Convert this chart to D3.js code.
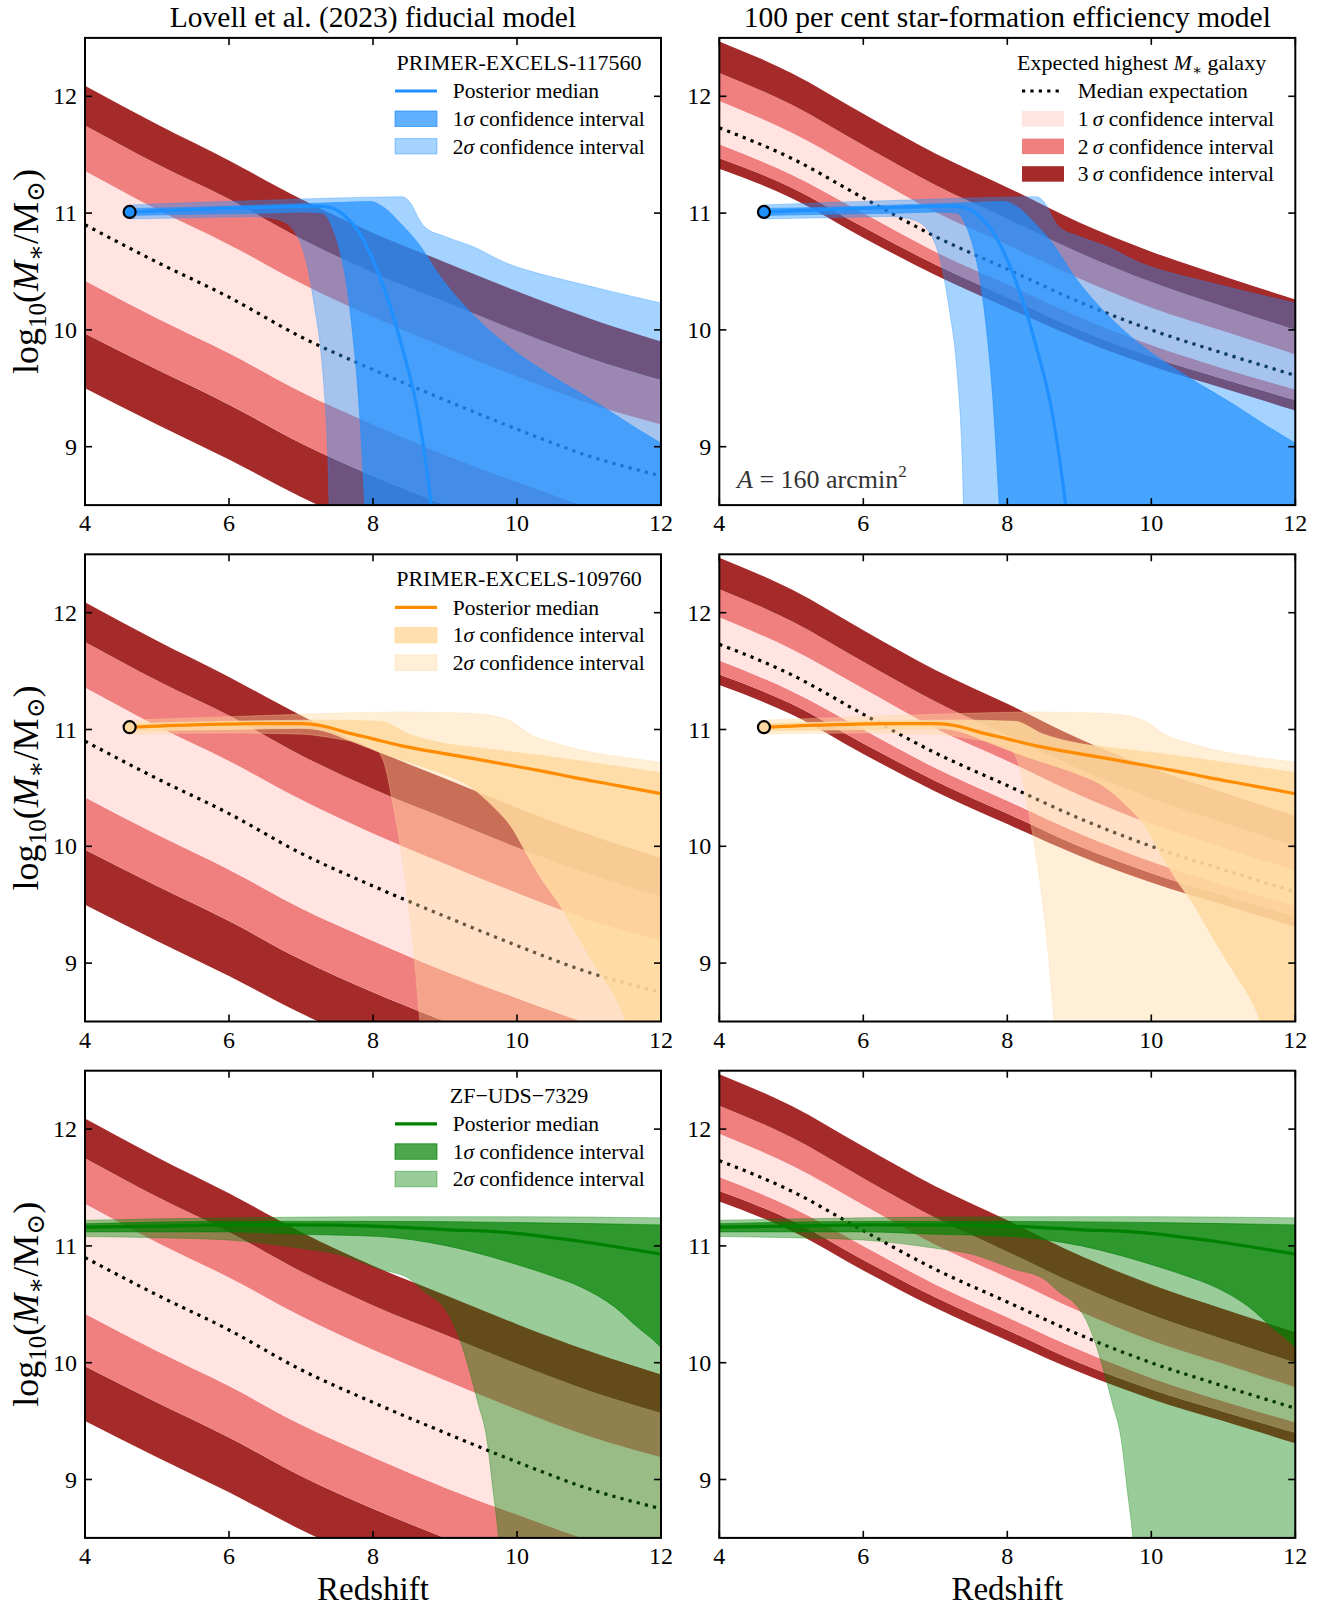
<!DOCTYPE html>
<html>
<head>
<meta charset="utf-8">
<script src="https://cdn.jsdelivr.net/npm/d3@7"></script>
<style>
  body { margin: 0; background: #fff; }
  svg, svg text { font-family: "Liberation Serif", "DejaVu Serif", serif; }
</style>
</head>
<body>
<svg id="fig" width="1333" height="1607" font-family="Liberation Serif, DejaVu Serif, serif"></svg>
<script>
// ---------------------------------------------------------------------------
// Expected highest-mass galaxy (log10 M*/Msun) versus redshift for two models
// ---------------------------------------------------------------------------
const zModel = [4, 5, 6, 7, 8, 9, 10, 11, 12];

// Lovell et al. (2023) fiducial model
const fidMedian = [10.90, 10.58, 10.28, 9.94, 9.66, 9.40, 9.15, 8.92, 8.75];
const fidHi1 = [11.36, 11.03, 10.73, 10.40, 10.11, 9.85, 9.60, 9.37, 9.19];
const fidHi2 = [11.75, 11.42, 11.12, 10.78, 10.49, 10.24, 9.99, 9.76, 9.57];
const fidHi3 = [12.09, 11.76, 11.45, 11.12, 10.83, 10.58, 10.33, 10.10, 9.90];
const fidLo1 = [10.42, 10.10, 9.80, 9.47, 9.19, 8.93, 8.70, 8.48, 8.30];
const fidLo2 = [9.97, 9.66, 9.36, 9.03, 8.75, 8.50, 8.26, 8.04, 7.86];
const fidLo3 = [9.50, 9.19, 8.89, 8.57, 8.29, 8.04, 7.80, 7.58, 7.40];

// 100 per cent star-formation efficiency model
const sfeMedian = [11.73, 11.47, 11.13, 10.80, 10.52, 10.24, 10.00, 9.80, 9.61];
const sfeHi1 = [11.96, 11.69, 11.35, 11.01, 10.73, 10.44, 10.19, 9.99, 9.79];
const sfeHi2 = [12.20, 11.93, 11.58, 11.24, 10.95, 10.66, 10.41, 10.20, 10.00];
const sfeHi3 = [12.47, 12.20, 11.85, 11.51, 11.22, 10.92, 10.67, 10.46, 10.26];
const sfeLo1 = [11.59, 11.33, 11.00, 10.67, 10.39, 10.11, 9.87, 9.67, 9.49];
const sfeLo2 = [11.47, 11.22, 10.88, 10.56, 10.28, 10.00, 9.77, 9.58, 9.40];
const sfeLo3 = [11.38, 11.13, 10.79, 10.47, 10.19, 9.92, 9.69, 9.50, 9.31];

// ---------------------------------------------------------------------------
// Posterior stellar-mass histories of three galaxies, as [redshift, log M] pairs
// ---------------------------------------------------------------------------
// PRIMER-EXCELS-117560
const p117560Obs = [4.62, 11.01];
const p117560Median = [[4.62, 11.01], [5.5, 11.03], [6.5, 11.05], [7.2, 11.06], [7.4, 11.05], [7.6, 10.98],
  [7.8, 10.84], [7.97, 10.64], [8.17, 10.33], [8.4, 9.86], [8.63, 9.27], [8.81, 8.50], [8.9, 8.00]];
const p117560Hi1 = [[4.62, 11.04], [5.5, 11.05], [6.5, 11.07], [7.5, 11.09], [7.95, 11.10], [8.17, 11.04],
  [8.4, 10.90], [8.63, 10.74], [8.93, 10.46], [9.39, 10.13], [9.86, 9.87], [10.5, 9.60], [11.15, 9.36],
  [11.6, 9.18], [12, 9.03]];
const p117560Lo1 = [[4.62, 10.98], [5.5, 10.99], [6.5, 11.00], [7.0, 11.01], [7.3, 11.00], [7.42, 10.90],
  [7.53, 10.70], [7.63, 10.40], [7.72, 9.95], [7.8, 9.40], [7.86, 8.80], [7.9, 8.30], [7.95, 7.00], [12, 7.00]];
const p117560Hi2 = [[4.62, 11.07], [5.5, 11.09], [6.5, 11.11], [7.5, 11.13], [8.4, 11.14], [8.54, 11.07],
  [8.63, 10.96], [8.72, 10.88], [9.0, 10.80], [9.4, 10.71], [9.86, 10.57], [10.32, 10.48], [10.78, 10.41],
  [11.24, 10.34], [12, 10.23]];
const p117560Lo2 = [[4.62, 10.95], [5.5, 10.96], [6.4, 10.97], [6.7, 10.94], [6.9, 10.85], [7.03, 10.68],
  [7.12, 10.45], [7.2, 10.15], [7.27, 9.85], [7.32, 9.50], [7.36, 9.10], [7.39, 8.50], [7.42, 7.00], [12, 7.00]];

// PRIMER-EXCELS-109760
const p109760Obs = [4.62, 11.02];
const p109760Median = [[4.62, 11.02], [5.5, 11.04], [6.5, 11.05], [7.0, 11.05], [7.3, 11.03], [7.6, 10.98],
  [8.0, 10.92], [8.4, 10.86], [8.93, 10.80], [9.4, 10.75], [9.85, 10.70], [10.3, 10.65], [10.78, 10.59],
  [11.4, 10.52], [12, 10.45]];
const p109760Hi1 = [[4.62, 11.05], [6.0, 11.07], [7.3, 11.08], [8.1, 11.07], [8.5, 10.96], [9.0, 10.88],
  [9.5, 10.84], [10.3, 10.78], [11.0, 10.72], [12, 10.63]];
const p109760Lo1 = [[4.62, 10.99], [6.0, 11.00], [7.0, 11.01], [7.3, 10.99], [7.7, 10.90], [8.2, 10.78],
  [8.6, 10.70], [8.93, 10.63], [9.35, 10.51], [9.67, 10.34], [9.95, 10.14], [10.13, 9.94], [10.32, 9.74],
  [10.6, 9.49], [10.87, 9.20], [11.15, 8.92], [11.43, 8.63], [11.52, 8.50], [11.7, 8.20], [12, 7.80]];
const p109760Hi2 = [[4.62, 11.08], [6.0, 11.11], [7.0, 11.13], [8.4, 11.15], [9.3, 11.14], [9.65, 11.12],
  [9.95, 11.06], [10.18, 10.96], [10.55, 10.88], [11.0, 10.81], [11.5, 10.76], [12, 10.72]];
const p109760Lo2 = [[4.62, 10.96], [6.0, 10.97], [7.0, 10.96], [7.5, 10.92], [8.0, 10.85], [8.15, 10.72],
  [8.28, 10.35], [8.4, 9.92], [8.5, 9.47], [8.58, 9.00], [8.65, 8.50], [8.72, 8.00], [8.8, 7.00], [12, 7.00]];

// ZF-UDS-7329
const zf7329Median = [[4, 11.16], [5, 11.17], [6, 11.18], [7, 11.18], [8, 11.17], [9, 11.14], [9.95, 11.11],
  [10.5, 11.07], [10.88, 11.04], [11.5, 10.98], [12, 10.93]];
const zf7329Hi1 = [[4, 11.19], [6, 11.21], [8, 11.21], [10, 11.20], [12, 11.18]];
const zf7329Lo1 = [[4, 11.12], [6, 11.12], [7, 11.10], [8.1, 11.08], [9.03, 11.00], [9.95, 10.85],
  [10.5, 10.74], [10.88, 10.65], [11.35, 10.48], [11.7, 10.29], [11.9, 10.19], [12, 10.13]];
const zf7329Hi2 = [[4, 11.22], [6, 11.24], [8, 11.25], [10, 11.25], [12, 11.24]];
const zf7329Lo2 = [[4, 11.08], [5, 11.07], [6, 11.05], [7, 10.98], [7.5, 10.93], [8.1, 10.80], [8.5, 10.72],
  [8.71, 10.61], [8.96, 10.49], [9.09, 10.37], [9.21, 10.19], [9.33, 9.95], [9.46, 9.65], [9.58, 9.35],
  [9.67, 8.89], [9.74, 8.52], [9.8, 8.00], [9.85, 7.00], [12, 7.00]];

// Axis ticks and labels
const xTicks = [4, 6, 8, 10, 12];
const yTicks = [9, 10, 11, 12];
const columnTitles = ["Lovell et al. (2023) fiducial model", "100 per cent star-formation efficiency model"];

// ---------------------------------------------------------------------------
// Styling and layout
// ---------------------------------------------------------------------------
const FONT = "Liberation Serif, DejaVu Serif, serif";
const BROWN = "#a52a2a", CORAL = "#f08080", ROSE = "#ffe4e1";
const colX = [85, 719.3], panelW = 576;
const rowY = [37.9, 554.3, 1070.7], panelH = 467.2;

const models = [
  { median: fidMedian, lo1: fidLo1, hi1: fidHi1, lo2: fidLo2, hi2: fidHi2, lo3: fidLo3, hi3: fidHi3 },
  { median: sfeMedian, lo1: sfeLo1, hi1: sfeHi1, lo2: sfeLo2, hi2: sfeHi2, lo3: sfeLo3, hi3: sfeHi3 }
];

const galaxies = [
  { name: "PRIMER-EXCELS-117560", line: "#1e90ff", fill1: "#1e90ff", fill2: "#1e90ff", a1: 0.7, a2: 0.4,
    marker: "#1e90ff", obs: p117560Obs,
    median: p117560Median, lo1: p117560Lo1, hi1: p117560Hi1, lo2: p117560Lo2, hi2: p117560Hi2 },
  { name: "PRIMER-EXCELS-109760", line: "#ff8c00", fill1: "#ffda9f", fill2: "#ffd69b", a1: 0.86, a2: 0.4,
    marker: "#fdd8a0", obs: p109760Obs,
    median: p109760Median, lo1: p109760Lo1, hi1: p109760Hi1, lo2: p109760Lo2, hi2: p109760Hi2 },
  { name: "ZF\u2212UDS\u22127329", line: "#008000", fill1: "#008000", fill2: "#008000", a1: 0.7, a2: 0.4,
    marker: null, obs: null,
    median: zf7329Median, lo1: zf7329Lo1, hi1: zf7329Hi1, lo2: zf7329Lo2, hi2: zf7329Hi2 }
];

const svg = d3.select("#fig");
const defs = svg.append("defs");

function label(sel) {
  return sel.append("text").attr("font-family", FONT);
}

function drawPanel(col, row) {
  const model = models[col];
  const gal = galaxies[row];
  const x0 = colX[col], y0 = rowY[row];
  const x = d3.scaleLinear().domain([4, 12]).range([x0, x0 + panelW]);
  const y = d3.scaleLinear().domain([8.5, 12.5]).range([y0 + panelH, y0]);

  const clipId = `clip-${col}-${row}`;
  defs.append("clipPath").attr("id", clipId)
    .append("rect").attr("x", x0).attr("y", y0).attr("width", panelW).attr("height", panelH);

  const g = svg.append("g");
  const plot = g.append("g").attr("clip-path", `url(#${clipId})`);

  // model confidence bands, drawn as adjacent strips
  const rowsM = zModel.map((z, i) => ({
    z, v: [model.lo3[i], model.lo2[i], model.lo1[i], model.hi1[i], model.hi2[i], model.hi3[i]]
  }));
  const strips = [[0, 1, BROWN], [1, 2, CORAL], [2, 3, ROSE], [3, 4, CORAL], [4, 5, BROWN]];
  strips.forEach(([a, b, c]) => {
    plot.append("path")
      .attr("d", d3.area().curve(d3.curveMonotoneX)
        .x(d => x(d.z)).y0(d => y(d.v[a])).y1(d => y(d.v[b]))(rowsM))
      .attr("fill", c);
  });

  // model median
  plot.append("path")
    .attr("d", d3.line().curve(d3.curveMonotoneX).x((z) => x(z)).y((z, i) => y(model.median[i]))(zModel))
    .attr("fill", "none").attr("stroke", "#000").attr("stroke-width", 3.2)
    .attr("stroke-dasharray", "3.2,5.2");

  // galaxy posterior bands
  const lineM = d3.line().curve(d3.curveMonotoneX).x(d => x(d[0])).y(d => y(d[1]));
  const bandPath = (hi, lo) => lineM(hi) + "L" + lineM(lo.slice().reverse()).slice(1) + "Z";
  plot.append("path").attr("d", bandPath(gal.hi2, gal.lo2))
    .attr("fill", gal.fill2).attr("fill-opacity", gal.a2)
    .attr("stroke", gal.fill2).attr("stroke-opacity", gal.a2).attr("stroke-width", 0.8);
  plot.append("path").attr("d", bandPath(gal.hi1, gal.lo1))
    .attr("fill", gal.fill1).attr("fill-opacity", gal.a1)
    .attr("stroke", gal.fill1).attr("stroke-opacity", gal.a1).attr("stroke-width", 0.8);
  plot.append("path").attr("d", lineM(gal.median))
    .attr("fill", "none").attr("stroke", gal.line).attr("stroke-width", 3.2);

  if (gal.obs) {
    plot.append("circle").attr("cx", x(gal.obs[0])).attr("cy", y(gal.obs[1])).attr("r", 6)
      .attr("fill", gal.marker).attr("stroke", "#000").attr("stroke-width", 2.2);
  }

  // ticks (inward, all four sides)
  const tk = 7;
  xTicks.forEach(t => {
    g.append("line").attr("x1", x(t)).attr("x2", x(t)).attr("y1", y0 + panelH).attr("y2", y0 + panelH - tk)
      .attr("stroke", "#000").attr("stroke-width", 1.6);
    g.append("line").attr("x1", x(t)).attr("x2", x(t)).attr("y1", y0).attr("y2", y0 + tk)
      .attr("stroke", "#000").attr("stroke-width", 1.6);
    label(g).attr("x", x(t)).attr("y", y0 + panelH + 26).attr("text-anchor", "middle")
      .attr("font-size", 24).text(t);
  });
  yTicks.forEach(t => {
    g.append("line").attr("x1", x0).attr("x2", x0 + tk).attr("y1", y(t)).attr("y2", y(t))
      .attr("stroke", "#000").attr("stroke-width", 1.6);
    g.append("line").attr("x1", x0 + panelW).attr("x2", x0 + panelW - tk).attr("y1", y(t)).attr("y2", y(t))
      .attr("stroke", "#000").attr("stroke-width", 1.6);
    label(g).attr("x", x0 - 8).attr("y", y(t) + 8).attr("text-anchor", "end")
      .attr("font-size", 24).text(t);
  });

  // frame
  g.append("rect").attr("x", x0).attr("y", y0).attr("width", panelW).attr("height", panelH)
    .attr("fill", "none").attr("stroke", "#000").attr("stroke-width", 2);

  // axis labels
  if (col === 0) {
    const yl = label(g).attr("transform", `translate(38,${y0 + panelH / 2}) rotate(-90)`)
      .attr("text-anchor", "middle").attr("font-size", 36);
    yl.append("tspan").text("log");
    yl.append("tspan").attr("dy", 8).attr("font-size", 25).text("10");
    yl.append("tspan").attr("dy", -8).text("(");
    yl.append("tspan").attr("font-style", "italic").text("M");
    yl.append("tspan").attr("dy", 6).attr("font-size", 25).text("\u2217");
    yl.append("tspan").attr("dy", -6).text("/M");
    yl.append("tspan").attr("dy", 6).attr("font-size", 25).text("\u2299");
    yl.append("tspan").attr("dy", -6).text(")");
  }
  if (row === 2) {
    label(g).attr("x", x0 + panelW / 2).attr("y", 1600).attr("text-anchor", "middle")
      .attr("font-size", 33).text("Redshift");
  }
  if (row === 0) {
    label(g).attr("x", x0 + panelW / 2).attr("y", 27).attr("text-anchor", "middle")
      .attr("font-size", 29.5).text(columnTitles[col]);
  }

  // legends
  const FS = 21.5;
  if (col === 0) {
    const lg = g.append("g").attr("transform", `translate(0,${y0 - rowY[0]})`);
    label(lg).attr("x", 519).attr("y", 70).attr("text-anchor", "middle").attr("font-size", 22)
      .text(gal.name);
    lg.append("line").attr("x1", 395).attr("x2", 437).attr("y1", 91).attr("y2", 91)
      .attr("stroke", gal.line).attr("stroke-width", 3.2);
    lg.append("rect").attr("x", 395).attr("y", 111).attr("width", 42).attr("height", 15.5)
      .attr("fill", gal.fill1).attr("fill-opacity", gal.a1)
      .attr("stroke", gal.fill1).attr("stroke-opacity", gal.a1);
    lg.append("rect").attr("x", 395).attr("y", 138.5).attr("width", 42).attr("height", 15.5)
      .attr("fill", gal.fill2).attr("fill-opacity", gal.a2)
      .attr("stroke", gal.fill2).attr("stroke-opacity", gal.a2);
    label(lg).attr("x", 452.7).attr("y", 98.2).attr("font-size", FS).text("Posterior median");
    ["1", "2"].forEach((n, i) => {
      const t = label(lg).attr("x", 452.7).attr("y", 125.9 + i * 27.6).attr("font-size", FS);
      t.append("tspan").text(n);
      t.append("tspan").attr("font-style", "italic").text("\u03c3");
      t.append("tspan").text(" confidence interval");
    });
  } else if (row === 0) {
    const lg = g.append("g");
    const tt = label(lg).attr("x", 1141.6).attr("y", 70).attr("text-anchor", "middle").attr("font-size", 22);
    tt.append("tspan").text("Expected highest ");
    tt.append("tspan").attr("font-style", "italic").text("M");
    tt.append("tspan").attr("dy", 5).attr("font-size", 15).text("\u2217");
    tt.append("tspan").attr("dy", -5).text(" galaxy");
    lg.append("line").attr("x1", 1022).attr("x2", 1063).attr("y1", 91).attr("y2", 91)
      .attr("stroke", "#000").attr("stroke-width", 3.2).attr("stroke-dasharray", "3.2,5.2");
    label(lg).attr("x", 1077.7).attr("y", 98.2).attr("font-size", FS).text("Median expectation");
    [ROSE, CORAL, BROWN].forEach((c, i) => {
      lg.append("rect").attr("x", 1022).attr("y", 111 + i * 27.6).attr("width", 42).attr("height", 15.5)
        .attr("fill", c);
      const t = label(lg).attr("x", 1077.7).attr("y", 125.9 + i * 27.6).attr("font-size", FS);
      t.append("tspan").text(String(i + 1) + "\u2009");
      t.append("tspan").attr("font-style", "italic").text("\u03c3");
      t.append("tspan").text(" confidence interval");
    });
    const at = label(g).attr("x", 737).attr("y", 488).attr("font-size", 26).attr("fill", "#333");
    at.append("tspan").attr("font-style", "italic").text("A");
    at.append("tspan").text(" = 160 arcmin");
    at.append("tspan").attr("dy", -11).attr("font-size", 17).text("2");
  }
}

for (let r = 0; r < 3; r++) for (let c = 0; c < 2; c++) drawPanel(c, r);
</script>
</body>
</html>
